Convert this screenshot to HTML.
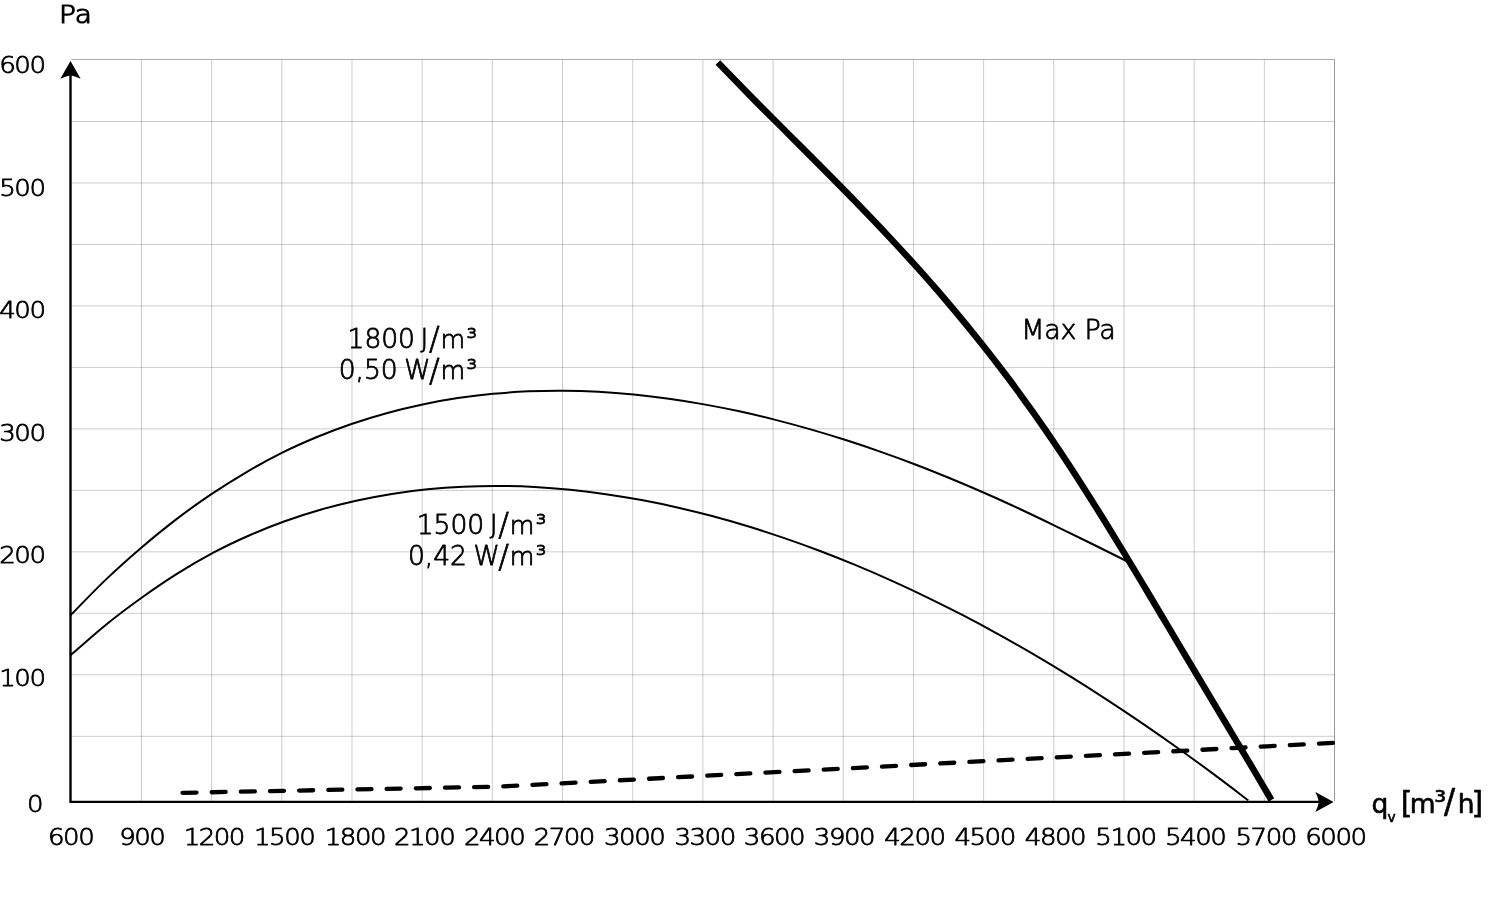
<!DOCTYPE html>
<html lang="en">
<head>
<meta charset="utf-8">
<title>Fan curve</title>
<style>
html,body{margin:0;padding:0;background:#fff;}
body{width:1506px;height:901px;overflow:hidden;}
svg{display:block;}
text{font-family:"DejaVu Sans","Liberation Sans",sans-serif;font-weight:200;fill:#000;stroke:#000;stroke-width:0.8px;stroke-linejoin:round;white-space:pre;}
.ax text{font-size:23.3px;letter-spacing:-1.35px;}
.lab text{font-size:26.6px;}
.lab .num{letter-spacing:-0.1px;}
.lab .m{font-size:25.3px;}
.lab .sl{font-size:31.8px;}
.qv text{font-size:26.5px;font-weight:400;stroke-width:0.6px;}
.qv .sub{font-size:13.8px;}
.qv .br{font-size:30px;}
.qv .sup{font-size:30px;}
.qv .sl{font-size:33px;}
.grid line{stroke:#000;stroke-opacity:.2;stroke-width:1;}
</style>
</head>
<body>
<svg width="1506" height="901" viewBox="0 0 1506 901">
<rect width="1506" height="901" fill="#fff"/>
<g class="grid">
<line x1="141.45" y1="60" x2="141.45" y2="801"/>
<line x1="211.63" y1="60" x2="211.63" y2="801"/>
<line x1="281.81" y1="60" x2="281.81" y2="801"/>
<line x1="351.99" y1="60" x2="351.99" y2="801"/>
<line x1="422.17" y1="60" x2="422.17" y2="801"/>
<line x1="492.35" y1="60" x2="492.35" y2="801"/>
<line x1="562.53" y1="60" x2="562.53" y2="801"/>
<line x1="632.71" y1="60" x2="632.71" y2="801"/>
<line x1="702.89" y1="60" x2="702.89" y2="801"/>
<line x1="773.07" y1="60" x2="773.07" y2="801"/>
<line x1="843.25" y1="60" x2="843.25" y2="801"/>
<line x1="913.43" y1="60" x2="913.43" y2="801"/>
<line x1="983.61" y1="60" x2="983.61" y2="801"/>
<line x1="1053.79" y1="60" x2="1053.79" y2="801"/>
<line x1="1123.97" y1="60" x2="1123.97" y2="801"/>
<line x1="1194.15" y1="60" x2="1194.15" y2="801"/>
<line x1="1264.33" y1="60" x2="1264.33" y2="801"/>
<line x1="71.5" y1="121.50" x2="1334" y2="121.50"/>
<line x1="71.5" y1="182.98" x2="1334" y2="182.98"/>
<line x1="71.5" y1="244.46" x2="1334" y2="244.46"/>
<line x1="71.5" y1="305.94" x2="1334" y2="305.94"/>
<line x1="71.5" y1="367.42" x2="1334" y2="367.42"/>
<line x1="71.5" y1="428.90" x2="1334" y2="428.90"/>
<line x1="71.5" y1="490.38" x2="1334" y2="490.38"/>
<line x1="71.5" y1="551.86" x2="1334" y2="551.86"/>
<line x1="71.5" y1="613.34" x2="1334" y2="613.34"/>
<line x1="71.5" y1="674.82" x2="1334" y2="674.82"/>
<line x1="71.5" y1="736.30" x2="1334" y2="736.30"/>
<line x1="71.5" y1="59.5" x2="1335" y2="59.5" style="stroke-opacity:.32"/>
<line x1="1334.5" y1="60" x2="1334.5" y2="801" style="stroke-opacity:.4"/>
</g>
<g fill="none" stroke="#000" stroke-linecap="butt">
<path d="M70.60 615.24 C76.47 609.31 94.06 590.86 105.80 579.64 C117.53 568.42 129.26 557.97 140.99 547.93 C152.73 537.88 164.46 528.31 176.19 519.36 C187.92 510.40 199.65 502.07 211.39 494.18 C223.12 486.29 234.85 478.92 246.58 472.04 C258.32 465.16 270.05 458.72 281.78 452.88 C293.51 447.04 305.24 441.87 316.98 437.01 C328.71 432.16 340.44 427.77 352.17 423.76 C363.91 419.75 375.64 416.17 387.37 412.96 C399.10 409.74 410.83 406.93 422.57 404.45 C434.30 401.97 446.03 399.88 457.76 398.10 C469.50 396.32 481.23 394.90 492.96 393.78 C504.69 392.66 516.42 391.88 528.16 391.37 C539.89 390.87 551.62 390.68 563.35 390.76 C575.09 390.84 586.82 391.21 598.55 391.84 C610.28 392.47 622.01 393.38 633.75 394.52 C645.48 395.67 657.21 397.08 668.94 398.72 C680.68 400.36 692.41 402.25 704.14 404.36 C715.87 406.46 727.60 408.80 739.34 411.35 C751.07 413.90 762.80 416.67 774.53 419.63 C786.27 422.60 798.00 425.78 809.73 429.15 C821.46 432.51 833.19 436.08 844.93 439.82 C856.66 443.57 868.39 447.50 880.12 451.61 C891.86 455.71 903.59 459.98 915.32 464.46 C927.05 468.94 938.78 473.66 950.52 478.50 C962.25 483.34 973.98 488.34 985.71 493.50 C997.45 498.66 1009.18 504.02 1020.91 509.49 C1032.64 514.95 1044.37 520.61 1056.11 526.28 C1067.84 531.96 1079.57 537.74 1091.30 543.52 C1103.04 549.31 1120.63 558.07 1126.50 560.98" stroke-width="2"/>
<path d="M70.60 655.28 C76.55 650.14 94.39 634.09 106.29 624.46 C118.18 614.83 130.08 606.00 141.98 597.49 C153.87 588.98 165.77 580.87 177.66 573.40 C189.56 565.93 201.46 558.97 213.35 552.65 C225.25 546.33 237.14 540.74 249.04 535.50 C260.94 530.26 272.83 525.51 284.73 521.21 C296.62 516.91 308.52 513.13 320.42 509.70 C332.31 506.28 344.21 503.29 356.10 500.66 C368.00 498.02 379.89 495.80 391.79 493.90 C403.69 492.01 415.58 490.49 427.48 489.29 C439.37 488.09 451.27 487.24 463.17 486.68 C475.06 486.13 486.96 485.91 498.85 485.97 C510.75 486.03 522.65 486.40 534.54 487.04 C546.44 487.68 558.33 488.62 570.23 489.81 C582.13 491.00 594.02 492.47 605.92 494.18 C617.81 495.90 629.71 497.88 641.61 500.10 C653.50 502.32 665.40 504.79 677.29 507.50 C689.19 510.20 701.09 513.15 712.98 516.33 C724.88 519.50 736.77 522.91 748.67 526.54 C760.57 530.17 772.46 534.03 784.36 538.11 C796.25 542.18 808.15 546.48 820.05 550.99 C831.94 555.50 843.84 560.23 855.73 565.16 C867.63 570.10 879.53 575.25 891.42 580.61 C903.32 585.96 915.21 591.53 927.11 597.30 C939.01 603.06 950.90 609.04 962.80 615.22 C974.69 621.39 986.59 627.77 998.48 634.35 C1010.38 640.92 1022.28 647.70 1034.17 654.67 C1046.07 661.64 1057.96 668.81 1069.86 676.17 C1081.76 683.53 1093.65 691.08 1105.55 698.82 C1117.44 706.56 1129.34 714.49 1141.24 722.59 C1153.13 730.70 1165.03 739.00 1176.92 747.47 C1188.82 755.93 1200.72 764.58 1212.61 773.40 C1224.51 782.21 1242.35 795.86 1248.30 800.35" stroke-width="2"/>
<path d="M717.92 62.50 C723.61 68.35 740.50 85.91 752.02 97.62 C763.55 109.33 775.38 121.03 787.08 132.74 C798.78 144.44 810.61 156.15 822.22 167.86 C833.84 179.56 845.44 191.27 856.78 202.98 C868.11 214.68 879.33 226.39 890.24 238.10 C901.16 249.80 911.88 261.51 922.29 273.21 C932.70 284.92 942.85 296.63 952.72 308.33 C962.58 320.04 972.15 331.75 981.45 343.45 C990.75 355.16 999.76 366.87 1008.53 378.57 C1017.30 390.28 1025.78 401.98 1034.06 413.69 C1042.34 425.40 1050.36 437.10 1058.22 448.81 C1066.09 460.52 1073.72 472.22 1081.24 483.93 C1088.77 495.63 1096.10 507.34 1103.37 519.05 C1110.64 530.75 1117.76 542.46 1124.85 554.17 C1131.95 565.87 1138.94 577.58 1145.94 589.29 C1152.94 600.99 1159.88 612.70 1166.85 624.40 C1173.82 636.11 1180.76 647.82 1187.73 659.52 C1194.71 671.23 1201.69 682.94 1208.69 694.64 C1215.68 706.35 1222.71 718.06 1229.71 729.76 C1236.72 741.47 1243.75 753.17 1250.70 764.88 C1257.65 776.59 1267.97 794.15 1271.42 800.00" stroke-width="6.5"/>
<path d="M182.5 792.8 L497 786.7 L1333 742.9" stroke-width="4.3" stroke-linecap="round" stroke-dasharray="14 15.17"/>
<path d="M70.5 72 V801.9 H1322" stroke-width="2.4" stroke-linejoin="miter"/>
</g>
<g fill="#000">
<path d="M70.5 60.9 L80.7 78.8 Q75.5 76.3 70.5 75.3 Q65.5 76.3 60.3 78.8 Z"/>
<path d="M1333.6 801.9 L1315.4 811.9 Q1317.9 806.8 1318.9 801.9 Q1317.9 797 1315.4 791.9 Z"/>
</g>
<g class="ax">
<text transform="translate(70.6 844.9) scale(1.120 1)" text-anchor="middle">600</text>
<text transform="translate(141.8 844.9) scale(1.120 1)" text-anchor="middle">900</text>
<text transform="translate(213.8 844.9) scale(1.120 1)" text-anchor="middle">1200</text>
<text transform="translate(284.2 844.9) scale(1.120 1)" text-anchor="middle">1500</text>
<text transform="translate(354.9 844.9) scale(1.120 1)" text-anchor="middle">1800</text>
<text transform="translate(424.1 844.9) scale(1.120 1)" text-anchor="middle">2100</text>
<text transform="translate(494.1 844.9) scale(1.120 1)" text-anchor="middle">2400</text>
<text transform="translate(563.8 844.9) scale(1.120 1)" text-anchor="middle">2700</text>
<text transform="translate(634.2 844.9) scale(1.120 1)" text-anchor="middle">3000</text>
<text transform="translate(704.6 844.9) scale(1.120 1)" text-anchor="middle">3300</text>
<text transform="translate(774.0 844.9) scale(1.120 1)" text-anchor="middle">3600</text>
<text transform="translate(844.0 844.9) scale(1.120 1)" text-anchor="middle">3900</text>
<text transform="translate(914.4 844.9) scale(1.120 1)" text-anchor="middle">4200</text>
<text transform="translate(984.6 844.9) scale(1.120 1)" text-anchor="middle">4500</text>
<text transform="translate(1055.0 844.9) scale(1.120 1)" text-anchor="middle">4800</text>
<text transform="translate(1125.5 844.9) scale(1.120 1)" text-anchor="middle">5100</text>
<text transform="translate(1195.2 844.9) scale(1.120 1)" text-anchor="middle">5400</text>
<text transform="translate(1265.7 844.9) scale(1.120 1)" text-anchor="middle">5700</text>
<text transform="translate(1335.4 844.9) scale(1.120 1)" text-anchor="middle">6000</text>
</g>
<g class="ax">
<text transform="translate(44.5 72.9) scale(1.120 1)" text-anchor="end">600</text>
<text transform="translate(44.5 196.3) scale(1.120 1)" text-anchor="end">500</text>
<text transform="translate(44.5 317.9) scale(1.120 1)" text-anchor="end">400</text>
<text transform="translate(44.5 440.9) scale(1.120 1)" text-anchor="end">300</text>
<text transform="translate(44.5 562.7) scale(1.120 1)" text-anchor="end">200</text>
<text transform="translate(44.5 685.9) scale(1.120 1)" text-anchor="end">100</text>
<text transform="translate(42.1 811.7) scale(1.120 1)" text-anchor="end">0</text>
</g>
<g class="ax">
<text transform="translate(59 22.5) scale(1.14 1)" style="font-size:24.6px;letter-spacing:0;stroke-width:1.15px">Pa</text>
</g>
<g class="lab">
<text y="347.7"><tspan x="347.6" class="num">1800 </tspan><tspan x="420.5">J</tspan><tspan x="429.1" dy="1.4" class="sl">/</tspan><tspan x="440.6" dy="-1.4" class="m">m</tspan><tspan x="466.6">³</tspan></text>
<text y="379.3"><tspan x="338.8" class="num">0,50 </tspan><tspan x="404.3">W</tspan><tspan x="429.1" dy="1.4" class="sl">/</tspan><tspan x="440.6" dy="-1.4" class="m">m</tspan><tspan x="466.6">³</tspan></text>
<text y="533.9"><tspan x="416.8" class="num">1500 </tspan><tspan x="489.7">J</tspan><tspan x="498.3" dy="1.4" class="sl">/</tspan><tspan x="509.8" dy="-1.4" class="m">m</tspan><tspan x="535.8">³</tspan></text>
<text y="565.2"><tspan x="408.0" class="num">0,42 </tspan><tspan x="473.5">W</tspan><tspan x="498.3" dy="1.4" class="sl">/</tspan><tspan x="509.8" dy="-1.4" class="m">m</tspan><tspan x="535.8">³</tspan></text>
<text x="1021.2" y="338.6" style="font-size:27px;letter-spacing:-0.3px">Max Pa</text>
</g>
<g class="qv">
<text><tspan x="1371.5" y="812.6">q</tspan><tspan x="1387.6" y="822.0" class="sub">v </tspan><tspan x="1400.7" y="813.4" class="br">[</tspan><tspan x="1409.8" y="812.6">m</tspan><tspan x="1434.3" y="812.2" class="sup">³</tspan><tspan x="1443.9" y="812.9" class="sl">/</tspan><tspan x="1457.8" y="812.6">h</tspan><tspan x="1471.5" y="813.4" class="br">]</tspan></text>
</g>
</svg>
</body>
</html>
